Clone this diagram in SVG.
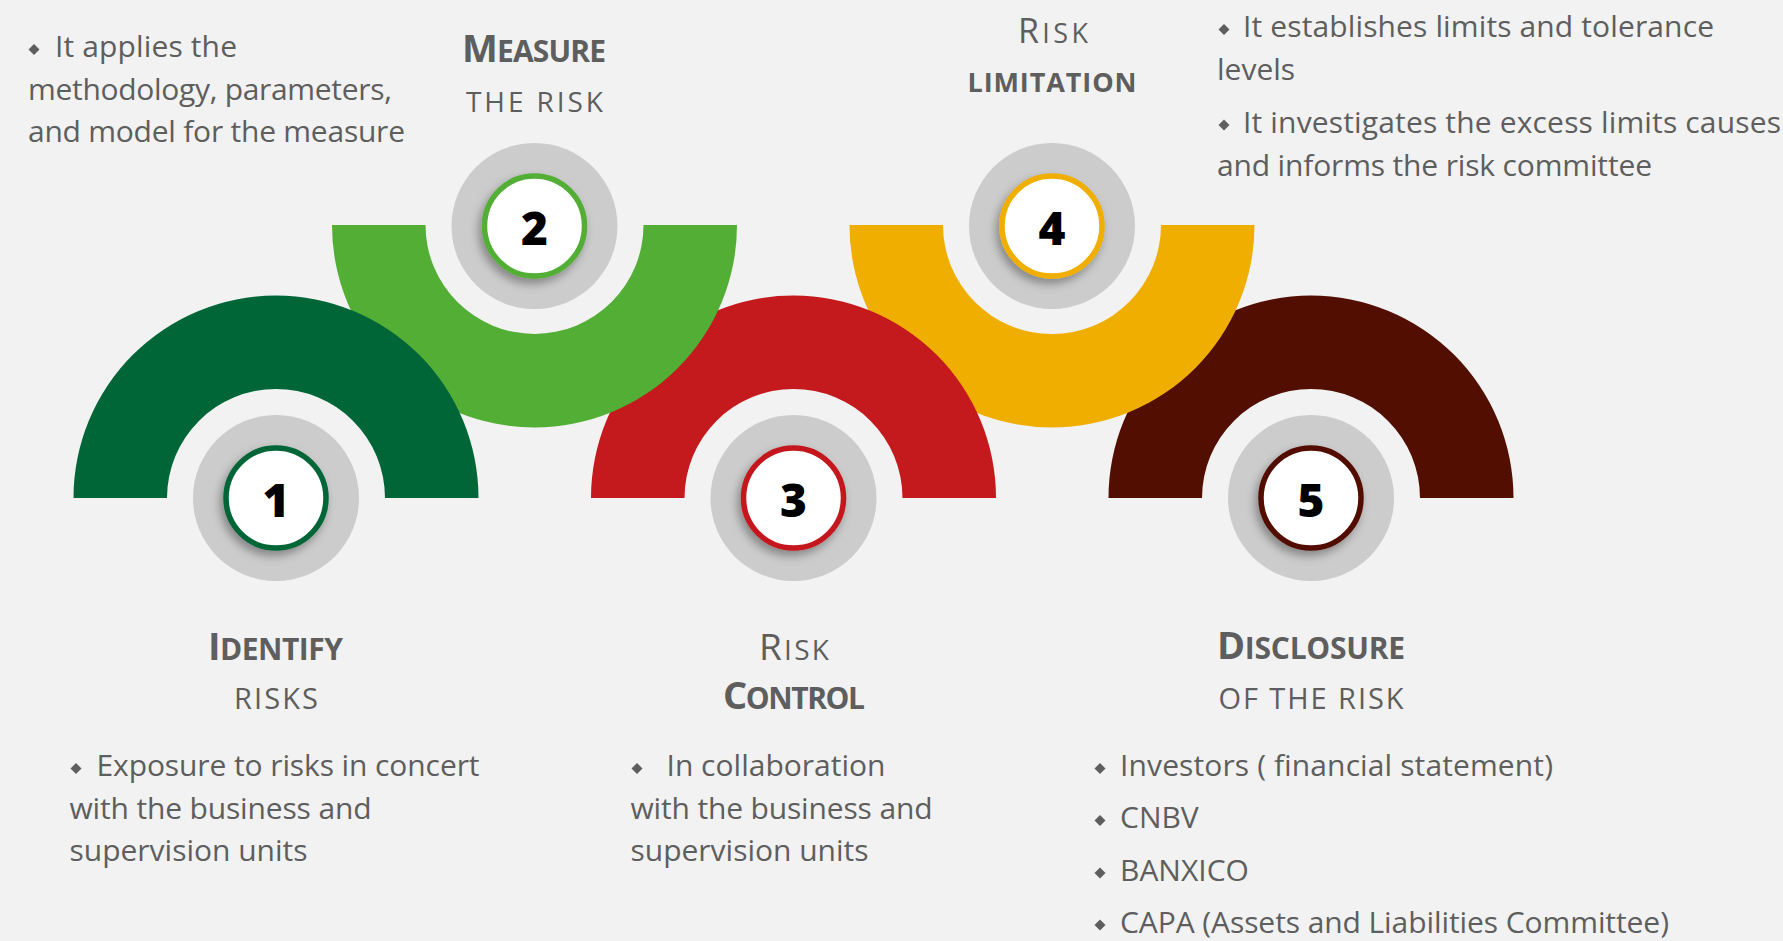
<svg xmlns="http://www.w3.org/2000/svg" xmlns:xlink="http://www.w3.org/1999/xlink" width="1783" height="941" viewBox="0 0 1783 941">
<style>
text{font-family:"Open Sans","Liberation Sans",sans-serif;fill:#5E5E5E}
.body{font-size:30px}
.hb{font-weight:700}
.num{font-family:"Open Sans","Liberation Sans",sans-serif;font-weight:800;font-size:46px;fill:#000;text-anchor:middle}
.mid{text-anchor:middle}
.halo{fill:#CCCCCC}
.bul{fill:#5E5E5E}
</style>
<defs>
<filter id="sh" x="-40%" y="-40%" width="180%" height="180%">
<feDropShadow dx="-3" dy="5" stdDeviation="5" flood-color="#000" flood-opacity="0.35"/>
</filter>
<path id="dm" d="M0,-5.5 L5.5,0 L0,5.5 L-5.5,0Z"/>
</defs>
<rect width="1783" height="941" fill="#F1F2F1"/>

<g id="node5">
<path d="M1108.5,498 A202.5,202.5 0 0 1 1513.5,498 L1420,498 A109,109 0 0 0 1202,498 Z" fill="#520E00"/>
<circle class="halo" cx="1311" cy="498" r="83"/>
<circle cx="1311" cy="498" r="50" fill="#fff" stroke="#520E00" stroke-width="5.5" filter="url(#sh)"/>
<text class="num" x="1311" y="516.5">5</text>
<text class="hb mid" x="1311" y="659" textLength="188"><tspan font-size="38">D</tspan><tspan font-size="30">ISCLOSURE</tspan></text>
<text class="mid" x="1311" y="709" font-size="29" textLength="185">OF THE RISK</text>
<use xlink:href="#dm" class="bul" x="1100" y="768.5"/>
<text class="body" x="1120" y="776" textLength="433">Investors ( financial statement)</text>
<use xlink:href="#dm" class="bul" x="1100" y="820.5"/>
<text class="body" x="1120" y="828">CNBV</text>
<use xlink:href="#dm" class="bul" x="1100" y="873"/>
<text class="body" x="1120" y="880.5">BANXICO</text>
<use xlink:href="#dm" class="bul" x="1100" y="925"/>
<text class="body" x="1120" y="932.5" textLength="549">CAPA (Assets and Liabilities Committee)</text>
</g>

<g id="node4">
<path d="M849.5,225 A202.5,202.5 0 0 0 1254.5,225 L1161,225 A109,109 0 0 1 943,225 Z" fill="#EFAE00"/>
<circle class="halo" cx="1052" cy="226" r="83"/>
<circle cx="1052" cy="226" r="50" fill="#fff" stroke="#EFAE00" stroke-width="5.5" filter="url(#sh)"/>
<text class="num" x="1052" y="244.5">4</text>
<text class="mid" x="1053" y="43" textLength="70"><tspan font-size="34">R</tspan><tspan font-size="27">ISK</tspan></text>
<text class="hb mid" x="1052" y="92" font-size="27" textLength="169">LIMITATION</text>
<use xlink:href="#dm" class="bul" x="1224" y="29.5"/>
<text class="body" x="1243" y="37" textLength="471">It establishes limits and tolerance</text>
<text class="body" x="1217" y="80">levels</text>
<use xlink:href="#dm" class="bul" x="1224" y="125"/>
<text class="body" x="1243" y="132.5" textLength="538">It investigates the excess limits causes</text>
<text class="body" x="1217" y="176" textLength="435">and informs the risk committee</text>
</g>

<g id="node3">
<path d="M591,498 A202.5,202.5 0 0 1 996,498 L902.5,498 A109,109 0 0 0 684.5,498 Z" fill="#C4191D"/>
<circle class="halo" cx="793.5" cy="498" r="83"/>
<circle cx="793.5" cy="498" r="50" fill="#fff" stroke="#C4191D" stroke-width="5.5" filter="url(#sh)"/>
<text class="num" x="793.5" y="516.5">3</text>
<text class="mid" x="794" y="660" textLength="70"><tspan font-size="37">R</tspan><tspan font-size="28">ISK</tspan></text>
<text class="hb mid" x="794" y="709" textLength="142"><tspan font-size="38">C</tspan><tspan font-size="30">ONTROL</tspan></text>
<use xlink:href="#dm" class="bul" x="637" y="768.5"/>
<text class="body" x="666.5" y="776" textLength="219">In collaboration</text>
<text class="body" x="630.5" y="819" textLength="302">with the business and</text>
<text class="body" x="630.5" y="861" textLength="238">supervision units</text>
</g>

<g id="node2">
<path d="M332,225 A202.5,202.5 0 0 0 737,225 L643.5,225 A109,109 0 0 1 425.5,225 Z" fill="#52AE34"/>
<circle class="halo" cx="534.5" cy="226" r="83"/>
<circle cx="534.5" cy="226" r="50" fill="#fff" stroke="#52AE34" stroke-width="5.5" filter="url(#sh)"/>
<text class="num" x="534.5" y="244.5">2</text>
<text class="hb mid" x="534" y="62" textLength="144"><tspan font-size="38">M</tspan><tspan font-size="30">EASURE</tspan></text>
<text class="mid" x="534.5" y="112" font-size="28" textLength="137">THE RISK</text>
<use xlink:href="#dm" class="bul" x="34" y="49.5"/>
<text class="body" x="55" y="57" textLength="182">It applies the</text>
<text class="body" x="28" y="99.5" textLength="364">methodology, parameters,</text>
<text class="body" x="28" y="142" textLength="377">and model for the measure</text>
</g>

<g id="node1">
<path d="M73.5,498 A202.5,202.5 0 0 1 478.5,498 L385,498 A109,109 0 0 0 167,498 Z" fill="#006638"/>
<circle class="halo" cx="276" cy="498" r="83"/>
<circle cx="276" cy="498" r="50" fill="#fff" stroke="#006638" stroke-width="5.5" filter="url(#sh)"/>
<text class="num" x="276" y="516.5">1</text>
<text class="hb mid" x="275.5" y="660" textLength="135"><tspan font-size="38">I</tspan><tspan font-size="30">DENTIFY</tspan></text>
<text class="mid" x="276" y="709" font-size="29" textLength="84">RISKS</text>
<use xlink:href="#dm" class="bul" x="76" y="768.5"/>
<text class="body" x="96.5" y="776" textLength="383">Exposure to risks in concert</text>
<text class="body" x="69.5" y="819" textLength="302">with the business and</text>
<text class="body" x="69.5" y="861" textLength="238">supervision units</text>
</g>

<g id="connectors"/>
</svg>
